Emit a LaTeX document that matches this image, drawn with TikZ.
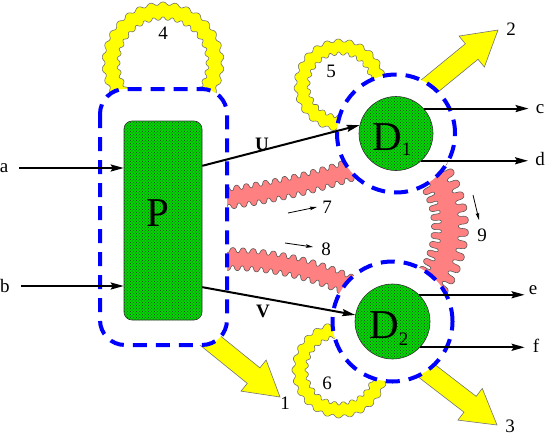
\documentclass[tikz,border=0pt]{standalone}
\usepackage{fontspec}
\setmainfont{Liberation Serif}
\usetikzlibrary{arrows.meta,patterns,calc}
\definecolor{bandpink}{RGB}{255,128,128}
\definecolor{yel}{RGB}{255,255,0}
\definecolor{lgreen}{RGB}{0,215,0}
\definecolor{dblue}{RGB}{0,0,255}
\def\tba{0.8}\def\tbb{0.5}
% #1 cx, #2 cy, #3 R, #4 half width, #5 amplitude, #6 th1, #7 th2, #8 wave factor, #9 style
% \tba, \tbb = tangential wobble terms (px)
\newcommand\arcband[9]{%
  \filldraw[#9] plot[domain=#6:#7, samples=420, variable=\t]
    ({#1+(#3+#4+#5*sin(#8*(\t-#6)))*cos(\t+57.2958*(-\tba*cos(#8*(\t-#6))-\tbb*sin(#8*(\t-#6))*cos(#8*(\t-#6)))/(#3+#4))},
     {#2+(#3+#4+#5*sin(#8*(\t-#6)))*sin(\t+57.2958*(-\tba*cos(#8*(\t-#6))-\tbb*sin(#8*(\t-#6))*cos(#8*(\t-#6)))/(#3+#4))})
   -- plot[domain=#7:#6, samples=420, variable=\t]
    ({#1+(#3-#4+#5*sin(#8*(\t-#6)))*cos(\t+57.2958*(\tba*cos(#8*(\t-#6))-\tbb*sin(#8*(\t-#6))*cos(#8*(\t-#6)))/(#3-#4))},
     {#2+(#3-#4+#5*sin(#8*(\t-#6)))*sin(\t+57.2958*(\tba*cos(#8*(\t-#6))-\tbb*sin(#8*(\t-#6))*cos(#8*(\t-#6)))/(#3-#4))}) -- cycle;}
% #1 tip, #2 angle, #3 length
\newcommand\bigarrow[3]{%
  \begin{scope}[shift={#1}, rotate=#2]
    \filldraw[yarrow] (0,0) -- (-34,20) -- (-34,10) -- (-#3,10) -- (-#3,-10) -- (-34,-10) -- (-34,-20) -- cycle;
  \end{scope}}
\tikzset{
  yloop/.style={fill=yel, draw=black!55, line width=0.6pt},
  pband/.style={fill=bandpink, draw=black!65, line width=0.6pt},
  yarrow/.style={fill=yel, draw=black!55, line width=0.6pt},
  dashblue/.style={draw=dblue, line width=4pt, dash pattern=on 14pt off 9pt},
  gbox/.style={draw=black!80, line width=0.6pt, fill=lgreen, rectangle, rounded corners=8pt, inner sep=0pt,
     postaction={pattern=crosshatch dots, pattern color=black!80}},
  gcirc/.style={draw=black!80, line width=0.6pt, fill=lgreen, circle, inner sep=0pt,
     postaction={pattern=crosshatch dots, pattern color=black!80}},
  arr/.style={draw, line width=2pt, -{Stealth[length=13pt,width=7pt,inset=2pt]}},
  sarr/.style={draw, line width=0.8pt, -{Stealth[length=7pt,width=3.5pt,inset=1pt]}},
  lbl/.style={inner sep=0pt, font=\fontsize{19}{22}\selectfont},
  ulbl/.style={inner sep=0pt, font=\fontsize{19}{22}\selectfont\bfseries},
  bigl/.style={inner sep=0pt, font=\fontsize{41}{44}\selectfont},
}
\begin{document}
\begin{tikzpicture}[x=1pt,y=-1pt]
\useasboundingbox (0,0) rectangle (545,436);
% yellow loops
\def\tba{0.3}\def\tbb{0.3}
\arcband{163}{63}{52}{7.5}{1.5}{135}{405}{30}{yloop}
\arcband{340}{85}{38}{6.5}{1.5}{80}{360}{23.5}{yloop}
\arcband{340}{370}{40}{6.5}{1.5}{0}{280}{24.5}{yloop}
% pink bands
\def\tba{0.4}\def\tbb{0.6}
\arcband{146.8}{-443}{646}{9}{2.4}{70.7}{83.5}{410}{pband}
\arcband{228}{550}{291}{9}{2.4}{-91.5}{-63}{185}{pband}
\def\tba{0.8}\def\tbb{1.6}
\arcband{355.5}{227}{94.5}{13.5}{5}{-38}{38}{55}{pband}
% big yellow arrows
\bigarrow{(280,397)}{-39}{105}
\bigarrow{(498,30)}{39.3}{100}
\bigarrow{(497,425)}{-37.6}{104}
% white interiors
\fill[white, rounded corners=25pt] (100,89) rectangle (227,345);
\fill[white] (396,133.5) circle[radius=59pt];
\fill[white] (392.5,321.5) circle[radius=60pt];
% dashed outlines
\draw[dashblue, rounded corners=25pt] (100,89) rectangle (227,345);
\draw[dashblue] (396,133.5) circle[radius=59pt];
\draw[dashblue] (392.5,321.5) circle[radius=60pt];
% main nodes
\node[gbox, minimum width=78pt, minimum height=199pt] (P) at (163,220.5) {};
\node[gcirc, minimum size=74pt] (D1) at (396,133.5) {};
\node[gcirc, minimum size=75pt] (D2) at (392.5,321.5) {};
\node[bigl] (Pt) at (158,213) {P};
\node[bigl, anchor=base west] (D1t) at (372,150) {D\raisebox{-5pt}{\fontsize{19}{19}\selectfont 1}};
\node[bigl, anchor=base west] (D2t) at (369,338) {D\raisebox{-7pt}{\fontsize{19}{19}\selectfont 2}};
% inputs
\node[lbl] (la) at (4,168) {a};
\node[lbl] (lb) at (5,286) {b};
\draw[arr] ([xshift=11pt]la.east) -- (la -| P.west);
\draw[arr] ([xshift=11pt]lb.east) -- (lb -| P.west);
% U, V
\draw[arr] ($(P.north east)!0.226!(P.south east)$) -- (D1.167);
\draw[arr] ($(P.north east)!0.834!(P.south east)$) -- (D2.170);
\node[ulbl] (lU) at (262,144) {U};
\node[ulbl] (lV) at (263,311) {V};
% outputs
\node[lbl] (lc) at (540,109) {c};
\node[lbl] (ld) at (540,159) {d};
\node[lbl] (le) at (533,290) {e};
\node[lbl] (lf) at (536,346) {f};
\draw[arr] (D1.42) -- ([xshift=-7pt]D1.42 -| lc.west);
\draw[arr] (D1.-47) -- ([xshift=-7pt]D1.-47 -| ld.west);
\draw[arr] (D2.45) -- ([xshift=-4pt]D2.45 -| le.west);
\draw[arr] (D2.-43) -- ([xshift=-8pt]D2.-43 -| lf.west);
% numbers
\node[lbl] (n1) at (285,403) {1};
\node[lbl] (n2) at (511,29) {2};
\node[lbl] (n3) at (510,426) {3};
\node[lbl] (n4) at (163,33) {4};
\node[lbl] (n5) at (331,71) {5};
\node[lbl] (n6) at (327,383) {6};
\node[lbl] (n7) at (327,207) {7};
\node[lbl] (n8) at (326,249) {8};
\node[lbl] (n9) at (482,235) {9};
% small arrows
\coordinate (s7a) at (288,213); \coordinate (s7b) at (317,207);
\coordinate (s8a) at (285,243); \coordinate (s8b) at (313,247);
\coordinate (s9a) at (473,195); \coordinate (s9b) at (479,220);
\draw[sarr] (s7a) -- (s7b);
\draw[sarr] (s8a) -- (s8b);
\draw[sarr] (s9a) -- (s9b);
\end{tikzpicture}
\end{document}
